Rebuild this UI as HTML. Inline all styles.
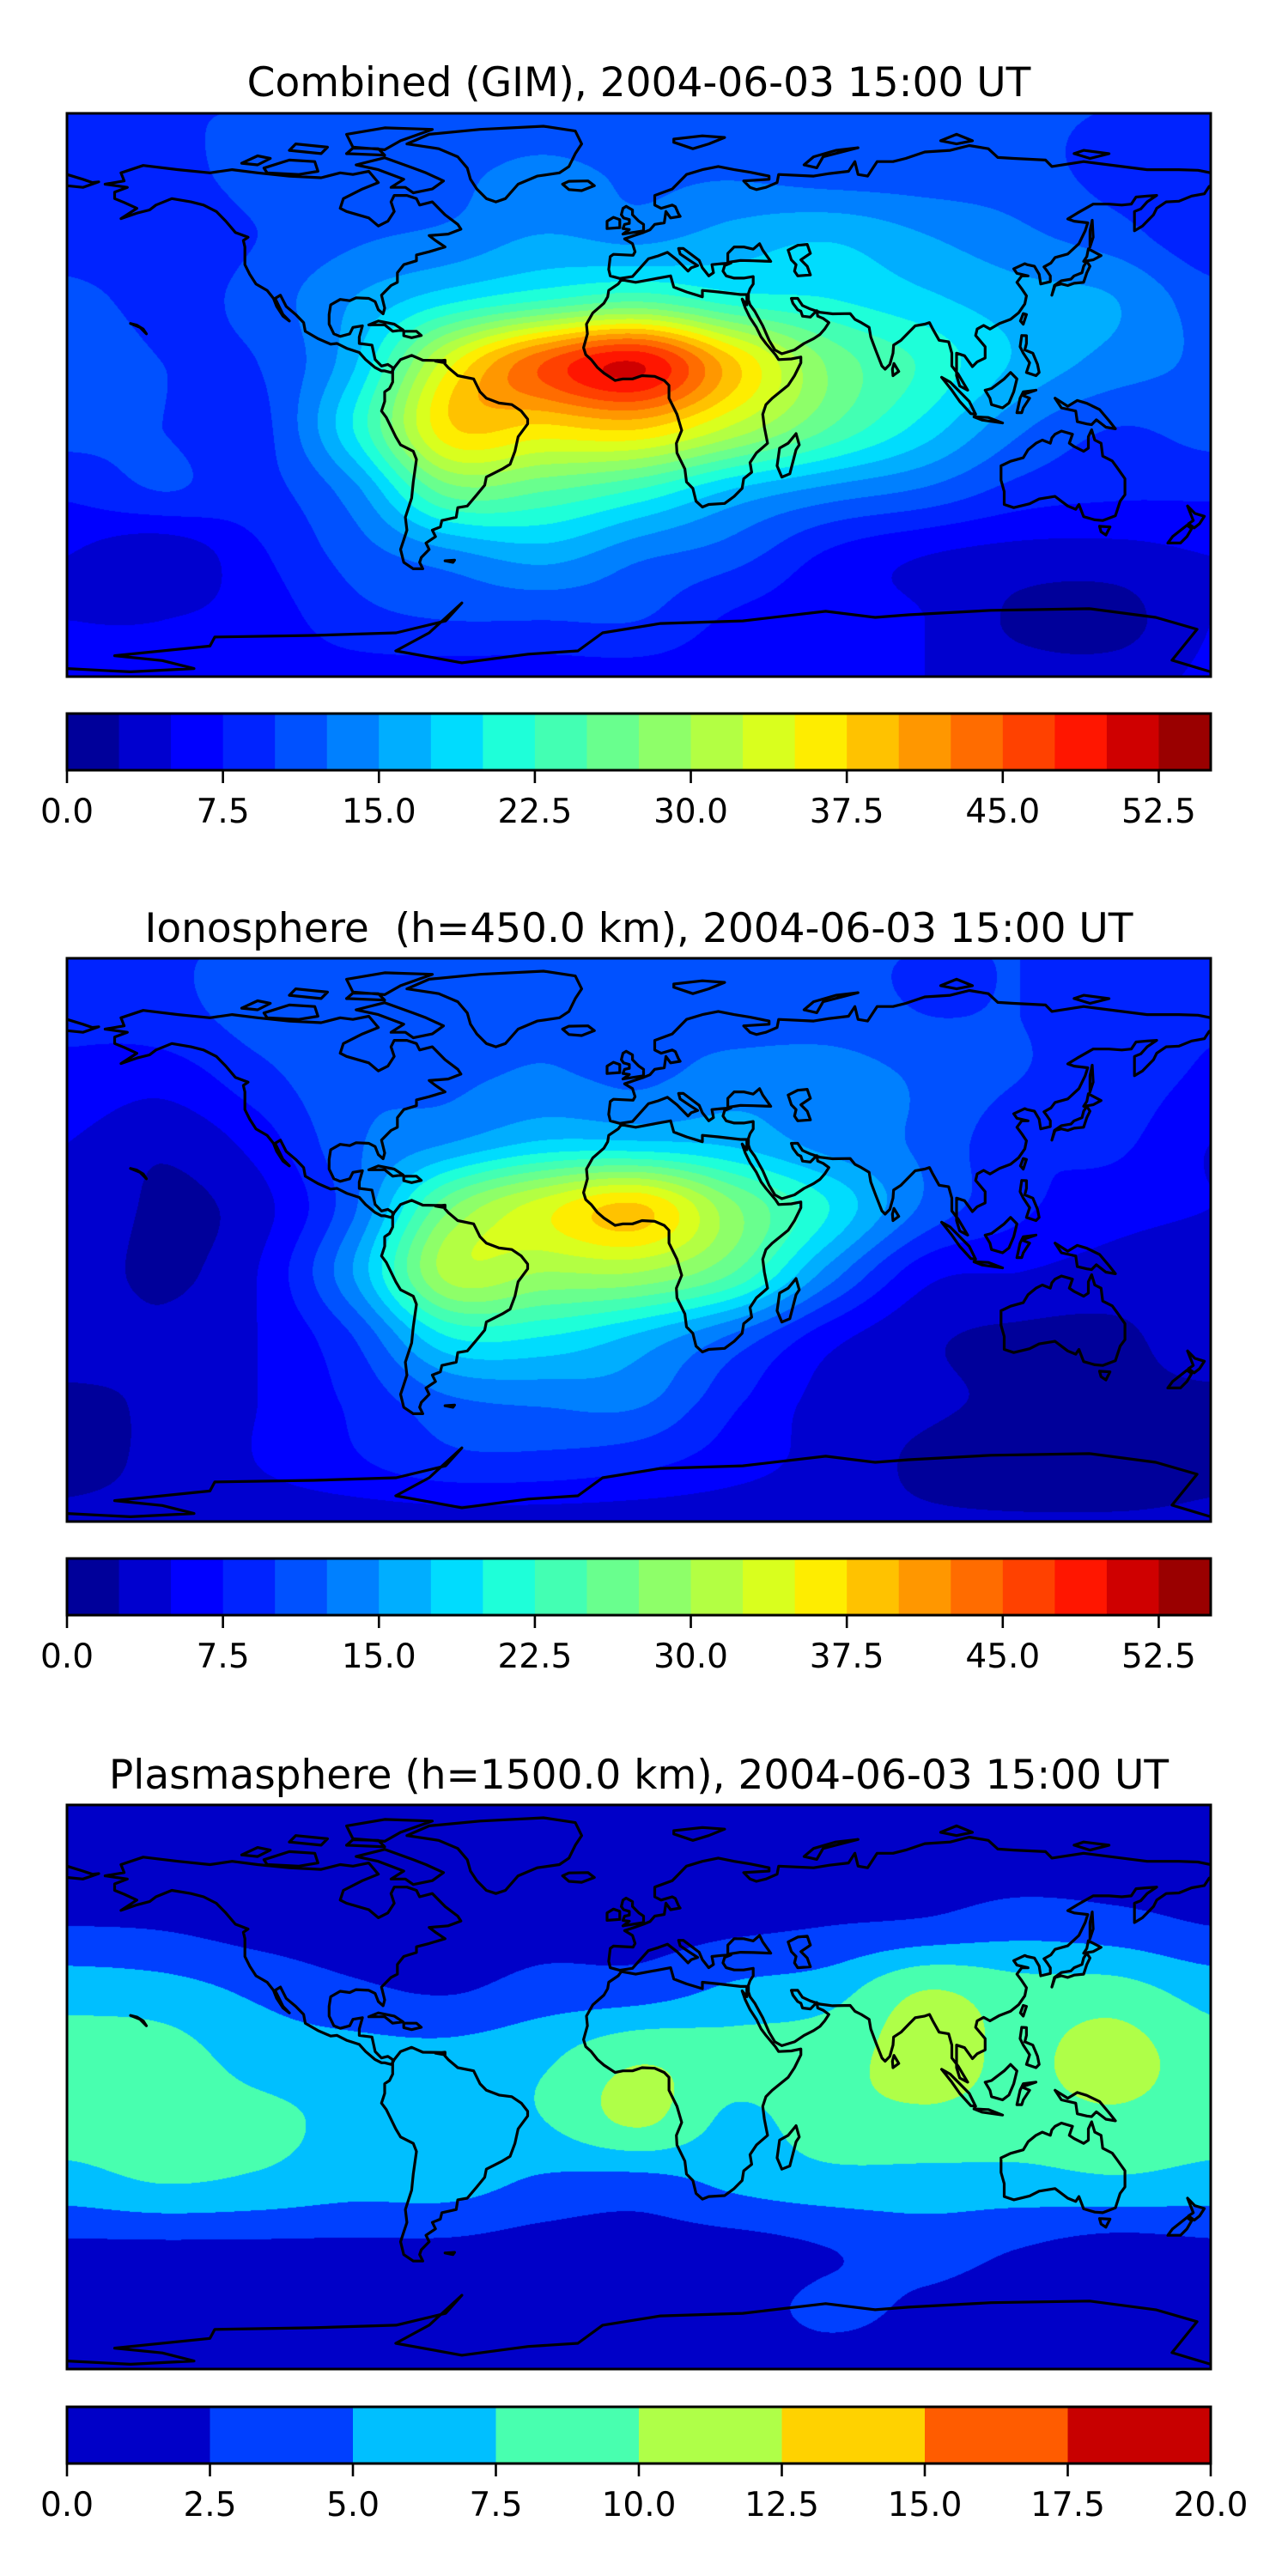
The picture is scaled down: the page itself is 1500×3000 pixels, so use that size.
<!DOCTYPE html>
<html><head><meta charset="utf-8">
<style>
html,body{margin:0;padding:0;background:#fff;}
body{width:1500px;height:3000px;position:relative;overflow:hidden;font-family:"DejaVu Sans","Liberation Sans",sans-serif;}
.title{position:absolute;left:0;width:1488px;text-align:center;font-size:47px;color:#000;white-space:pre;line-height:1;}
canvas{position:absolute;}
svg{position:absolute;left:0;overflow:visible;}
</style></head>
<body>
<div class="title" style="top:73px">Combined (GIM), 2004-06-03 15:00 UT</div>
<canvas id="c0" width="1332" height="656" style="left:78px;top:132px"></canvas>
<svg id="s0" width="1500" height="1000" style="top:0"></svg>

<div class="title" style="top:1058px">Ionosphere  (h=450.0 km), 2004-06-03 15:00 UT</div>
<canvas id="c1" width="1332" height="656" style="left:78px;top:1116px"></canvas>
<svg id="s1" width="1500" height="1000" style="top:984px"></svg>

<div class="title" style="top:2044px">Plasmasphere (h=1500.0 km), 2004-06-03 15:00 UT</div>
<canvas id="c2" width="1332" height="657" style="left:78px;top:2102px"></canvas>
<svg id="s2" width="1500" height="1000" style="top:1970px"></svg>

<script>
// ---- data ----
const gridLons = [-180,-150,-120,-90,-60,-30,0,30,60,90,120,150,180];
const gridLats = [90,70,50,30,10,-10,-30,-50,-70,-90];
const ionoLevels = [0,2.5,5,7.5,10,12.5,15,17.5,20,22.5,25,27.5,30,32.5,35,37.5,40,42.5,45,47.5,50,52.5,55];
const ionoTicks = [0,7.5,15,22.5,30,37.5,45,52.5];
const ionoTickLabels = ["0.0","7.5","15.0","22.5","30.0","37.5","45.0","52.5"];
const plasmaLevels = [0,2.5,5,7.5,10,12.5,15,17.5,20];
const plasmaTicks = [0,2.5,5,7.5,10,12.5,15,17.5,20];
const plasmaTickLabels = ["0.0","2.5","5.0","7.5","10.0","12.5","15.0","17.5","20.0"];
const gimGrid = [
 [10,10,10,10.5,11,11,11,11,11,11,10.5,10,10],
 [8,9,11,12,12,13,12,12,11,11,11,9,8],
 [8,8,10,12,13,15,14,16,17,15,13,11,8],
 [11,9,11,15,19,22,24,21,20,18,16,15,11],
 [12,10,10,17,34,45,50,38,27,22,17,14,12],
 [11,10,9,20,37,37,38,32,25,19,13,10,11],
 [8,10,9,14,26,25,22,17,14,12,9,8,8],
 [5,3,7,11,14,16,13,11,7,5,4,4,5],
 [5,5,6,9,10,10,10,7,6,5,2,1.5,5],
 [5.5,5.5,6,6,6,6,6,6,6,5,4,4,5.5]
];
const ionoGrid = [
 [10,10,10,10,10,10,10,10,10,10,10,10,10],
 [8,9,11,12,12,12,12,11,11,10,10,9,8],
 [7,6,9,12,12,13,12,14,14,12,10,9,7],
 [5,3,6,12,15,18,18,17,14,12,8,8,5],
 [5,2,4,12,27,34,38,28,20,12,8,6,5],
 [4,2,5,15,31,30,30,25,14,6,5,4,4],
 [4,3,5,10,20,20,17,12,6,3,2,2,4],
 [2,3,5,8,12,13,13,8,4,3,2,2,2],
 [2,3,5,7,9,9,8,6,4,2,1,1,2],
 [3,3,3,3,3,3,3,3,3,3,3,3,3]
];
const plasmaGrid = [
 [1,1,1,1,1,1,1,1,1,1,1,1,1],
 [1.2,1.2,1.2,1.2,1.2,1.2,1.2,1.2,1.2,1.2,1.2,1.2,1.2],
 [2.5,2.3,1.5,1,1,1.5,1.5,2,2.5,3,4,3.5,2.5],
 [6.5,6,4.5,3,2.3,3.5,3.8,5.5,6.5,10,8.5,8.5,6.5],
 [8.5,8.5,6.5,6,5.8,7,9.5,8.5,9,11,9.5,11,8.5],
 [8.5,8.5,8,7,6.5,7.5,10.5,7,9,9.5,9,9.5,8.5],
 [6.5,7.5,7,6,6,4.5,4,5.5,6.5,6.5,6.5,7,6.5],
 [2,2,2,2,2,1.5,1.5,1.5,2.5,3.5,2.5,1.5,2],
 [1.5,1.5,1.5,1.5,1.5,1.5,1.5,1.5,3,2,1.5,1.5,1.5],
 [1,1,1,1,1,1,1,1,1,1,1,1,1]
];

// coastlines (lon,lat)
const coasts = [
 [[-168,65.5],[-162,66.5],[-163,69],[-156,71.3],[-145,70],[-135,69],[-128,70],[-120,69],[-110,68],[-100,67.5],[-94,69],[-90,68.5],[-85,69.5],[-82,66],[-87,64],[-93,61],[-94,58],[-92,57],[-85,55],[-82,52.5],[-79,54],[-77,57],[-78,60],[-77,62],[-73,62],[-70,61],[-69,59],[-65,60],[-61,56],[-57,53],[-56,51.5],[-60,50],[-66,49.5],[-64,48],[-61,46],[-66,44.5],[-70,43.5],[-70,41.7],[-74,40.5],[-76,38],[-76,35],[-78,34],[-81,31],[-80,27],[-80.5,25.2],[-82,26.5],[-83,29],[-85,30],[-89,30.2],[-91,29.3],[-94,29.7],[-97,28],[-97.5,25],[-97.5,22],[-96,19],[-94,18.2],[-91,19],[-90,21],[-87,21.5],[-88,18],[-88,16],[-84,15.5],[-83,11],[-81,9],[-79,9.5],[-77.5,8.5],[-77.5,7.5],[-78,7],[-80,7.5],[-81,7.5],[-83,8.5],[-86,11],[-88,13.2],[-92,14.5],[-95,16],[-97,15.8],[-101,17.5],[-105,19.8],[-105.5,22.5],[-108,25],[-111,27.5],[-112.8,31],[-114.5,30],[-112,25],[-110,23],[-112,24.5],[-114,27.5],[-115,30],[-117,32.5],[-120.5,34.5],[-122.5,37.5],[-124,40.5],[-124,46],[-124.5,48],[-123,49],[-127,50.5],[-130,54],[-133,57],[-137,59],[-141,60],[-147,61],[-152,59],[-154,57.5],[-158,56.5],[-163,54.8],[-158,58],[-162,59.8],[-165,61],[-165,63],[-161,64.5],[-168,65.5]],
 [[-77,8.5],[-75,11],[-71.5,12.3],[-68,10.8],[-62,10.7],[-60,8.5],[-57,6],[-52,5],[-50,1],[-48,-1],[-44,-2.5],[-40,-3],[-37,-5],[-35,-7.5],[-35,-9],[-38,-13],[-39,-17.5],[-40.5,-21.5],[-43,-23],[-48,-25.5],[-48.5,-28],[-51,-31],[-54,-34.5],[-57,-35],[-57.5,-38],[-62,-39],[-62.5,-41],[-65,-42],[-64,-44],[-67,-46],[-66,-48],[-68.5,-50.5],[-69,-52],[-68,-54],[-71,-54],[-74,-52],[-75,-48],[-74,-45],[-73,-42],[-73.5,-38],[-71.5,-32],[-71,-27],[-70,-20],[-71,-17.5],[-75,-15.5],[-76.5,-13],[-79.5,-7],[-81,-5],[-80,-2],[-80,1],[-78.5,2],[-77.5,4],[-77.5,7.5],[-77,8.5]],
 [[-73,78],[-66,81],[-50,82.5],[-30,83.5],[-20,82],[-18,78],[-20,75],[-22,71],[-25,69],[-32,68],[-38,65.5],[-42,61],[-45,60],[-48,61],[-51,64],[-53,67],[-54,70.5],[-57,74],[-63,76.5],[-73,78]],
 [[-5.5,35.8],[-1,35],[10,37],[11,33.5],[15,32],[20,30.5],[20,32.5],[25,32],[32,31.2],[34,31.2],[34,28],[32.5,29.8],[33.5,27],[35,24],[37,21],[38.5,18],[40,16],[43,12.5],[44,11],[48,11.2],[51,11.8],[51,10],[49,6],[47,3],[42,-1],[40,-3],[39,-6],[39.5,-10],[40.5,-15],[37,-18],[35,-21],[35.5,-24],[33,-26],[32.5,-29],[30,-31.5],[27,-33.7],[22,-34],[20,-34.8],[18,-33],[17,-29],[15,-27],[14.5,-23],[12,-18],[11.8,-15],[13.5,-11],[12,-6],[9.5,-1],[9.5,3],[8,4.5],[5,5.8],[1,6],[-2,5],[-5,5],[-7.5,4.5],[-11,6.8],[-13,8.5],[-15,11],[-16.7,12.5],[-17.4,14.7],[-16.2,19],[-16.5,22],[-14.5,25.5],[-11,28.5],[-9.8,30.5],[-9.5,32.5],[-6.5,34.5],[-5.5,35.8]],
 [[180,69],[176,69.8],[170,70],[160,70],[152,71],[140,72.5],[130,71],[128,73],[118,73.5],[113,73.8],[110,76.5],[104,77.5],[98,76],[90,75.5],[84,73.5],[80,72.5],[75,72.5],[72,68],[69,68.5],[68,72.5],[66,69.5],[60,68.8],[55,68],[44,68.5],[43.5,66],[40,64.5],[37,63.8],[35,64.5],[33,66.5],[41,67],[41,68],[35,69.2],[30,70],[25,71],[20,70],[15,68.5],[12.5,66],[10.5,64],[5,62],[5,59],[7,58],[10.5,59],[11.5,58.5],[12.5,56.2],[13,55.5],[10,55],[8.5,57],[8,53.5],[5,53],[3.5,51.3],[1.5,50.5],[-1.5,49.5],[-4.5,48.5],[-2,47],[-1.2,44.5],[-1.8,43.4],[-8,43.7],[-9,43],[-9.5,39],[-9,37],[-6,36.2],[-2,36.8],[0,39],[3,42.3],[6,43.2],[9,44.3],[12,42],[15.5,38.5],[16.5,39.5],[18.5,40.2],[16,41.8],[13,43.8],[12.5,45.5],[14,45.5],[19,41.8],[20,39.5],[22,37],[23.5,38],[23,40.5],[26,40.8],[29,41],[27,40.2],[26.5,38.5],[27.5,37],[30,36.3],[33,36.3],[36,36.8],[36,34.5],[35,33],[34.5,31.5],[34.5,29.5],[35,28],[36.5,26],[39,21.5],[41,17],[42.8,14],[45,12.8],[49,14],[52,16],[55,17.5],[57,18.8],[58.5,20.5],[59.8,22.5],[58,23.8],[56.3,24.5],[56,26.2],[54,24.2],[51.5,24.5],[51,26],[50,26.5],[48.5,28.5],[48,30],[50,30],[51.5,27.8],[54,26.7],[57,25.7],[61,25.2],[66.5,25.3],[68,23.5],[70,22.5],[72.5,21],[73,18],[74.5,14],[76.5,9],[77.5,8],[79,9.5],[80,13],[80.2,15.5],[82.5,17],[85,19.5],[87,21.5],[90,22],[91.5,22.5],[92.5,20.5],[94.5,17],[97.5,16.5],[98.5,13],[98.5,9],[100.5,6.5],[103.5,1.5],[101,2.8],[100,6],[100,13],[102.5,12.2],[105,8.8],[106.5,10.3],[109,11.5],[109,15],[106,18.5],[106.5,20.5],[108.5,21.6],[110.5,20.5],[113.5,22.2],[117,23.5],[119.5,25.5],[121.5,28.3],[122,30.8],[120.5,33],[119,35],[120.5,37],[122.5,37],[119,37.8],[118,39.2],[121.5,40.8],[122.2,40.5],[124.5,40],[126,37.5],[126.5,34.5],[129.5,35.2],[129.5,37],[128.5,38.5],[127.5,39.8],[129.7,41],[131,42.7],[135,43.8],[138.5,47],[140.5,51],[141.3,53.5],[137,54],[135,54.7],[138,56.5],[143,59.3],[148,59.3],[152,59],[155,59.3],[156.5,61.5],[160,61.8],[163,62],[160,60],[158,57.8],[156,57],[156,51],[158.5,52.5],[162,56],[163,58],[166,60],[170,60.2],[174,61.8],[178,62.5],[179.5,64.8],[180,65]],
 [[-180,68.5],[-175,67],[-172,66],[-170,66.2],[-175,64.5],[-180,65]],
 [[47,45],[50,46.5],[53,46.8],[54,44],[51,42],[53,40],[54,37.3],[50,37],[49,38.5],[49.5,40.5],[48,42],[47,45]],
 [[28,41.2],[28,44],[30,46],[33,46],[36,45.3],[38,47],[39,45],[41.5,41.5],[36,41.7],[32,41.8],[28,41.2]],
 [[114,-22],[114,-26.5],[115,-30],[115,-34],[118,-35],[123,-33.8],[126,-32.3],[131,-31.5],[135,-34.5],[137.5,-35.5],[138.5,-34],[140,-37.8],[143.5,-38.8],[146,-39],[150,-37.5],[151.5,-33],[153,-31],[153,-26],[150.5,-22.5],[149,-20.5],[146,-19],[145.5,-15],[143.5,-14],[142.5,-10.8],[141.5,-13],[141.5,-16.5],[140,-17.5],[137,-16],[135.5,-15],[136.5,-12.2],[133,-11.2],[131,-12.2],[130,-13.3],[129.5,-15],[127,-14],[125,-15],[122.5,-17],[121,-19.5],[117,-20.6],[114,-22]],
 [[-180,-85],[-160,-86],[-140,-85],[-150,-82.5],[-165,-81],[-135,-78],[-133.5,-75.2],[-102.4,-74.7],[-76.4,-73.9],[-60.8,-70.2],[-55.7,-64.6],[-66,-73.9],[-76.5,-79.5],[-55.7,-83.2],[-34.8,-80.5],[-19.2,-79.5],[-11.4,-73.9],[6.8,-71],[32.7,-70.2],[58.8,-67.2],[74.4,-69.1],[84.9,-68.3],[110.8,-66.9],[141.9,-66.4],[162.7,-69.1],[175.7,-72.8],[167.8,-82.4],[180,-86]],
 [[130,31],[131,34],[133,34.5],[135,34],[137,34.7],[140,35],[141,38],[142,40],[141,41.5],[140,40],[139.5,38],[137,37],[136,36],[133,35.5],[130.8,34],[130,31]],
 [[140,41.5],[141,43],[141.5,45.4],[145.5,43.3],[143,42],[140,41.5]],
 [[142,46],[143,49],[142.7,54.3],[142,51],[142,46]],
 [[-5,50],[1.5,51],[1.5,53],[0,54],[-2,56],[-2,57.5],[-4,58.6],[-5,58],[-5.5,56],[-4.8,55],[-3,54.5],[-3,53.3],[-4.5,53],[-5,51.7],[-3,51.4],[-5,50]],
 [[-6,52],[-6,54.5],[-8,55.2],[-10,54],[-10,51.7],[-6,52]],
 [[-24,65.5],[-22,66.4],[-16,66.5],[-14,65],[-18,63.5],[-22,63.8],[-24,65.5]],
 [[49.5,-12],[50.5,-15.5],[49.5,-17],[47.5,-24.5],[45,-25.5],[43.5,-22],[44.3,-16.5],[47,-15],[49.5,-12]],
 [[172.7,-34.5],[175,-36.8],[178,-37.7],[176.5,-40],[174.8,-41.3],[173,-40],[174.5,-39],[172.7,-34.5]],
 [[172.5,-40.5],[174,-41.5],[172.5,-44],[170.5,-46],[166.5,-46],[168,-44],[172.5,-40.5]],
 [[-85,21.8],[-82,23],[-77,22],[-74.2,20.2],[-77.5,19.8],[-80,21.8],[-85,21.8]],
 [[-74,19.8],[-70,19.8],[-68.5,18.5],[-71.5,17.8],[-74,18.4],[-74,19.8]],
 [[95.3,5.5],[98,4],[104,-2],[106,-6],[104.5,-5.8],[101,-2],[98.5,1.5],[95.3,5.5]],
 [[109,1.5],[110.5,-1],[111,-3],[114.5,-4],[116.5,-2.5],[118,1],[119,5],[117,7],[115,5],[111,2],[109,1.5]],
 [[105.5,-6.8],[110,-7],[114.5,-8.7],[108,-7.8],[105.5,-6.8]],
 [[119,-5.5],[120,-1],[121,1],[125,1.5],[120.5,0],[123,-1],[121,-4],[120.5,-5.5],[119,-5.5]],
 [[131,-1],[135,-3.5],[138,-1.7],[141,-2.6],[145,-4.5],[148,-8],[150,-10.5],[147,-10],[144,-7.7],[142.5,-9.2],[141,-9],[138,-8.3],[137.5,-5],[133,-4],[132,-2.5],[131,-1]],
 [[120.5,18.5],[122,18.4],[122,16],[121.5,14],[124,13],[125.5,9.5],[126,7],[125,6],[122,7],[123,10],[121,13],[120,15],[120.5,18.5]],
 [[120.1,23],[121,22],[122,25],[121,25.3],[120.1,23]],
 [[80,6],[81.8,7.3],[80.3,9.8],[79.8,8],[80,6]],
 [[145,-40.8],[148.3,-41],[147,-43.5],[145.5,-42.5],[145,-40.8]],
 [[-80,73.7],[-71,70.5],[-67,69],[-61.5,66.5],[-65,64],[-71,62.8],[-73.5,64.5],[-78,64.5],[-74,67],[-82,70],[-89,71.5],[-80,73.7]],
 [[-118,70.5],[-110,73],[-102,72.5],[-101,69.5],[-107,68.5],[-117,69],[-118,70.5]],
 [[-125,72],[-120,74.3],[-116,73.5],[-120,71.5],[-125,72]],
 [[-90,77],[-80,76.2],[-75,79],[-65,82.5],[-80,83],[-92,81],[-90,77]],
 [[-92,75],[-80,74.5],[-82,76.5],[-90,76.7],[-92,75]],
 [[-110,76],[-100,75],[-98,77],[-108,78],[-110,76]],
 [[11,78.5],[17,76.5],[22,78],[27,80],[20,80.5],[11,79.5],[11,78.5]],
 [[52,71.5],[56,70.6],[58,74],[69,76.8],[62,76],[55,74],[52,71.5]],
 [[95,79],[100,78],[105,79],[100,81],[95,79]],
 [[137,75],[142,73.5],[148,75],[140,76],[137,75]],
 [[-160,22.2],[-157,21],[-155,19],[-156,20.5],[-158,21.7],[-160,22.2]],
 [[-61,-51.5],[-58,-51.3],[-58.5,-52],[-61,-51.5]],
 [[-64,10.5],[-61,10.8],[-61,10],[-64,10.5]]
];

// ---- projection / helpers ----
const MAP_W = 1332, MAP_X = 78;
function lonToX(lon){ return MAP_X + (lon + 180) / 360 * MAP_W; }
function latToY(lat, top, h){ return top + (87.5 - lat) / 175 * h; }

const jetR=[[0,0],[0.35,0],[0.66,1],[0.89,1],[1,0.5]];
const jetG=[[0,0],[0.125,0],[0.375,1],[0.64,1],[0.91,0],[1,0]];
const jetB=[[0,0.5],[0.11,1],[0.34,1],[0.65,0],[1,0]];
function seg(s,x){ for(let i=1;i<s.length;i++){ if(x<=s[i][0]){ const t=(x-s[i-1][0])/(s[i][0]-s[i-1][0]); return s[i-1][1]+t*(s[i][1]-s[i-1][1]); } } return s[s.length-1][1]; }
function jet(x){ return [Math.round(255*seg(jetR,x)),Math.round(255*seg(jetG,x)),Math.round(255*seg(jetB,x))]; }
function bandColors(levels){ const n=levels.length-1; const out=[]; for(let i=0;i<n;i++) out.push(jet((i+0.5)/n)); return out; }

function cr(p0,p1,p2,p3,t){ return 0.5*((2*p1)+(-p0+p2)*t+(2*p0-5*p1+4*p2-p3)*t*t+(-p0+3*p1-3*p2+p3)*t*t*t); }
function interpRow(row, f){ const n=row.length; const i=Math.min(Math.floor(f), n-2); const t=f-i;
  const g=k=>row[Math.max(0,Math.min(n-1,k))]; return cr(g(i-1),g(i),g(i+1),g(i+2),t); }

function drawField(canvasId, grid, levels){
  const cv=document.getElementById(canvasId); const W=cv.width, H=cv.height;
  const ctx=cv.getContext('2d'); const img=ctx.createImageData(W,H);
  const cols=bandColors(levels); const nb=cols.length; const lo=levels[0], step=levels[1]-levels[0];
  const dLon=gridLons[1]-gridLons[0], dLat=gridLats[0]-gridLats[1];
  const rowsI=grid.map(row=>{ const a=new Float32Array(W); for(let x=0;x<W;x++){ const lon=-180+(x+0.5)/W*360; a[x]=interpRow(row,(lon-gridLons[0])/dLon);} return a; });
  const nr=rowsI.length;
  for(let y=0;y<H;y++){
    const lat=87.5-(y+0.5)/H*175; const f=(gridLats[0]-lat)/dLat;
    const i=Math.min(Math.floor(f),nr-2); const t=f-i;
    const r=k=>rowsI[Math.max(0,Math.min(nr-1,k))];
    const a0=r(i-1),a1=r(i),a2=r(i+1),a3=r(i+2);
    for(let x=0;x<W;x++){
      const v=cr(a0[x],a1[x],a2[x],a3[x],t);
      let b=Math.floor((v-lo)/step); if(b<0)b=0; if(b>nb-1)b=nb-1;
      const c=cols[b]; const o=(y*W+x)*4;
      img.data[o]=c[0]; img.data[o+1]=c[1]; img.data[o+2]=c[2]; img.data[o+3]=255;
    }
  }
  ctx.putImageData(img,0,0);
}

const NS='http://www.w3.org/2000/svg';
function mk(tag, attrs){ const e=document.createElementNS(NS,tag); for(const k in attrs) e.setAttribute(k,attrs[k]); return e; }

function drawOverlay(svgId, mapTop, mapH, cbTop, levels, ticks, tickLabels, svgTop){
  const svg=document.getElementById(svgId);
  const mt=mapTop-svgTop, cb=cbTop-svgTop;
  // coastlines
  let d='';
  coasts.forEach(line=>{ line.forEach((p,i)=>{ d+=(i?'L':'M')+lonToX(p[0]).toFixed(1)+' '+latToY(p[1],mt,mapH).toFixed(1); }); });
  const clip=mk('clipPath',{id:svgId+'clip'}); clip.appendChild(mk('rect',{x:MAP_X,y:mt,width:MAP_W,height:mapH})); svg.appendChild(clip);
  const path=mk('path',{d:d,fill:'none',stroke:'#000','stroke-width':3.2,'stroke-linejoin':'round','stroke-linecap':'round','clip-path':'url(#'+svgId+'clip)'});
  
  
  svg.appendChild(path);
  const frame=mk('rect',{x:MAP_X,y:mt,width:MAP_W,height:mapH,fill:'none',stroke:'#000','stroke-width':3});
  
  
  svg.appendChild(frame);
  // colorbar
  const cols=bandColors(levels); const vmin=levels[0], vmax=levels[levels.length-1];
  const vx=v=>MAP_X+(v-vmin)/(vmax-vmin)*MAP_W;
  const cbH=66;
  for(let i=0;i<cols.length;i++){
    const r=mk('rect',{x:vx(levels[i]),y:cb,width:vx(levels[i+1])-vx(levels[i])+0.6,height:cbH,fill:'rgb('+cols[i].join(',')+')'});
    
    
    svg.appendChild(r);
  }
  const cf=mk('rect',{x:MAP_X,y:cb,width:MAP_W,height:cbH,fill:'none',stroke:'#000','stroke-width':3});
  
  
  svg.appendChild(cf);
  ticks.forEach((v,i)=>{
    const tk=mk('line',{x1:vx(v),x2:vx(v),y1:cb+cbH,y2:cb+cbH+15,stroke:'#000','stroke-width':2.6});
    
    
    svg.appendChild(tk);
    const tx=mk('text',{x:vx(v),y:cb+cbH+61,'text-anchor':'middle','font-size':39,'font-family':'DejaVu Sans, Liberation Sans, sans-serif',fill:'#000'});
    tx.textContent=tickLabels[i];
    
    
    svg.appendChild(tx);
  });
}

drawField('c0', gimGrid, ionoLevels);
drawField('c1', ionoGrid, ionoLevels);
drawField('c2', plasmaGrid, plasmaLevels);
drawOverlay('s0', 132, 656, 831, ionoLevels, ionoTicks, ionoTickLabels, 0);
drawOverlay('s1', 1116, 656, 1815, ionoLevels, ionoTicks, ionoTickLabels, 984);
drawOverlay('s2', 2102, 657, 2803, plasmaLevels, plasmaTicks, plasmaTickLabels, 1970);
</script>
</body></html>
